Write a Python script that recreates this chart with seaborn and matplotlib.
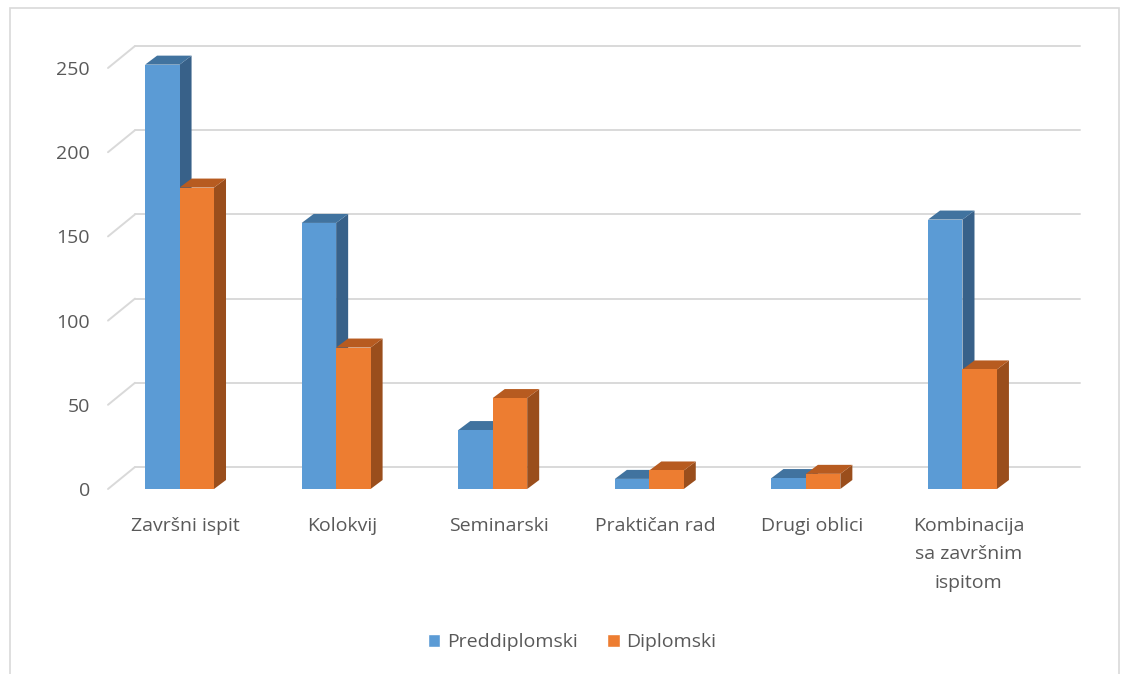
import matplotlib
matplotlib.use("Agg")
import matplotlib.pyplot as plt
import matplotlib.transforms as mtransforms
from matplotlib.patches import Polygon, Rectangle
import pandas as pd
import seaborn as sns

# data
kategorije = ["Završni ispit", "Kolokvij", "Seminarski", "Praktičan rad",
              "Drugi oblici", "Kombinacija\nsa završnim\nispitom"]
preddiplomski = [252, 158, 35, 6, 6.5, 160]
diplomski = [179, 84, 54, 11, 9, 71]
studiji = ["Preddiplomski", "Diplomski"]
y_ticks = [0, 50, 100, 150, 200, 250]

df = pd.DataFrame({
    "kategorija": kategorije * 2,
    "broj": preddiplomski + diplomski,
    "studij": [studiji[0]] * len(kategorije) + [studiji[1]] * len(kategorije),
})

sns.set_style("white")
plt.rcParams["font.family"] = ["Open Sans", "DejaVu Sans"]

# front colour, side colour, top colour
boje = {
    "Preddiplomski": ("#5B9BD5", "#386189", "#41739F"),
    "Diplomski": ("#ED7D31", "#9A4E1C", "#B75B20"),
}
siva = "#595959"
mreza = "#D9D9D9"

fig = plt.figure(figsize=(11.22, 6.74), dpi=100)
ax = fig.add_axes([108 / 1122, 1 - 489 / 674, 945 / 1122, 421 / 674])

sns.barplot(data=df, x="kategorija", y="broj", hue="studij",
            palette={k: v[0] for k, v in boje.items()}, width=0.44,
            saturation=1, ax=ax, zorder=3, edgecolor="none", linewidth=0)
ax.set_xlim(-0.457, 5.578)
ax.set_ylim(0, 250)
ax.set_xlabel("")
ax.set_ylabel("")
ax.set_yticks(y_ticks)
ax.tick_params(axis="y", length=0, pad=13, labelsize=14, labelcolor=siva)
ax.tick_params(axis="x", length=0, pad=20, labelsize=14, labelcolor=siva)
# labels sit a little to the right of the bar pairs, as in the 3D original
pomak_oznaka = mtransforms.ScaledTranslation(6 / 100, 0, fig.dpi_scale_trans)
for lbl in ax.get_xticklabels():
    lbl.set_linespacing(1.75)
    lbl.set_verticalalignment("top")
    lbl.set_transform(lbl.get_transform() + pomak_oznaka)
sns.despine(ax=ax, left=True, bottom=True)
ax.legend_.remove()

# back wall gridlines with the small diagonal at the left
dx_zid, dy_zid = 27, 22
pomak = mtransforms.ScaledTranslation(dx_zid / 100, dy_zid / 100, fig.dpi_scale_trans)
xmin, xmax = ax.get_xlim()
for v in y_ticks:
    ax.plot([xmin, xmax], [v, v], color=mreza, lw=1.4,
            transform=ax.transData + pomak, clip_on=False, zorder=0)
    p0 = ax.transData.transform((xmin, v))
    ax.plot([p0[0], p0[0] + dx_zid], [p0[1], p0[1] + dy_zid], color=mreza, lw=1.4,
            transform=mtransforms.IdentityTransform(), clip_on=False, zorder=0)

# 3D side and top faces built from the seaborn bars
dx, dy = 12, 9
n = len(kategorije)
for i, bar in enumerate(ax.patches[:2 * n]):
    bar.set_clip_on(False)
    studij = studiji[i // n]
    _, strana, vrh = boje[studij]
    x0, y0 = bar.get_x(), bar.get_y()
    x1, y1 = x0 + bar.get_width(), y0 + bar.get_height()
    (ax0, ay0), (ax1, ay1) = ax.transData.transform([(x0, y0), (x1, y1)])
    z = 2.0 if i < n else 2.1
    ax.add_patch(Polygon([(ax1, ay0), (ax1 + dx, ay0 + dy), (ax1 + dx, ay1 + dy), (ax1, ay1)],
                         closed=True, facecolor=strana, edgecolor="none",
                         transform=mtransforms.IdentityTransform(), clip_on=False, zorder=z))
    ax.add_patch(Polygon([(ax0, ay1), (ax0 + dx, ay1 + dy), (ax1 + dx, ay1 + dy), (ax1, ay1)],
                         closed=True, facecolor=vrh, edgecolor="none",
                         transform=mtransforms.IdentityTransform(), clip_on=False, zorder=z))

# legend at the bottom
handles = [Rectangle((0, 0), 1, 1, facecolor=boje[s][0]) for s in studiji]
fig.legend(handles, studiji, loc="center", bbox_to_anchor=(0.51, 1 - 642 / 674),
           ncol=2, frameon=False, fontsize=14, labelcolor=siva,
           handlelength=0.65, handleheight=0.65, handletextpad=0.35, columnspacing=1.5)

# light frame round the chart
fig.patches.append(Rectangle((10 / 1122, -0.02), 1109 / 1122, 1 - 8 / 674 + 0.02,
                             transform=fig.transFigure, fill=False,
                             edgecolor=mreza, lw=1.2))

fig.savefig("out.png", dpi=100)
